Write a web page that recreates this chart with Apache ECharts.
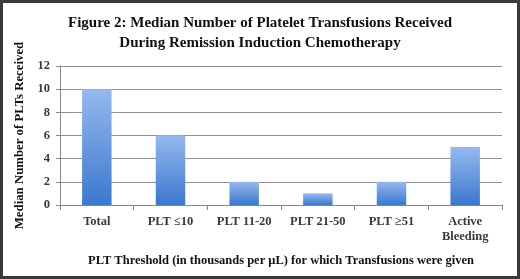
<!DOCTYPE html>
<html><head><meta charset="utf-8">
<script src="https://cdn.jsdelivr.net/npm/echarts@6/dist/echarts.min.js"></script>
<style>
html,body{margin:0;padding:0;background:#fff;}
#c{width:520px;height:279px;box-sizing:border-box;border:3px solid #3a3a3a;}
</style></head><body>
<div id="c"></div>
<script>
const categories = ['Total', 'PLT \u226410', 'PLT 11-20', 'PLT 21-50', 'PLT \u226551', 'Active\nBleeding'];
const values = [10, 6, 2, 1, 2, 5];
const yTicks = [0, 2, 4, 6, 8, 10, 12];
const titleText = 'Figure 2: Median Number of Platelet Transfusions Received\nDuring Remission Induction Chemotherapy';
const xTitle = 'PLT Threshold (in thousands per \u03bcL) for which Transfusions were given';
const yTitle = 'Median Number of PLTs Received';

const chart = echarts.init(document.getElementById('c'), null, {renderer: 'canvas'});
const serif = 'Liberation Serif';
chart.setOption({
  animation: false,
  title: {
    text: titleText, left: 'center', top: 5,
    textStyle: {fontFamily: serif, fontWeight: 'bold', fontSize: 15, lineHeight: 20, color: '#111'}
  },
  grid: {left: 57, right: 15, top: 63, bottom: 71, containLabel: false},
  xAxis: {
    type: 'category', data: categories,
    axisLine: {lineStyle: {color: '#888'}},
    axisTick: {show: true, lineStyle: {color: '#888'}},
    axisLabel: {fontFamily: serif, fontWeight: 'bold', fontSize: 12.5, color: '#3a3a3a', margin: 9, lineHeight: 15},
    name: xTitle, nameLocation: 'middle', nameGap: 49,
    nameTextStyle: {fontFamily: serif, fontWeight: 'bold', fontSize: 12.5, color: '#111'}
  },
  yAxis: {
    type: 'value', min: 0, max: 12, interval: 2,
    axisLine: {show: true, lineStyle: {color: '#888'}},
    axisTick: {show: true, length: 4, lineStyle: {color: '#888'}},
    splitLine: {lineStyle: {color: '#909090'}},
    axisLabel: {fontFamily: serif, fontWeight: 'bold', fontSize: 12.5, color: '#3a3a3a', margin: 10,
      formatter: v => yTicks.includes(v) ? String(v) : ''},
    name: yTitle, nameLocation: 'middle', nameGap: 32, nameRotate: 90,
    nameTextStyle: {fontFamily: serif, fontWeight: 'bold', fontSize: 12.8, color: '#111'}
  },
  series: [{
    type: 'bar', data: values, barWidth: '40%',
    itemStyle: {
      color: new echarts.graphic.LinearGradient(0, 0, 0, 1, [
        {offset: 0, color: '#95b9ef'},
        {offset: 1, color: '#3b78cf'}
      ])
    }
  }]
});
</script>
</body></html>
